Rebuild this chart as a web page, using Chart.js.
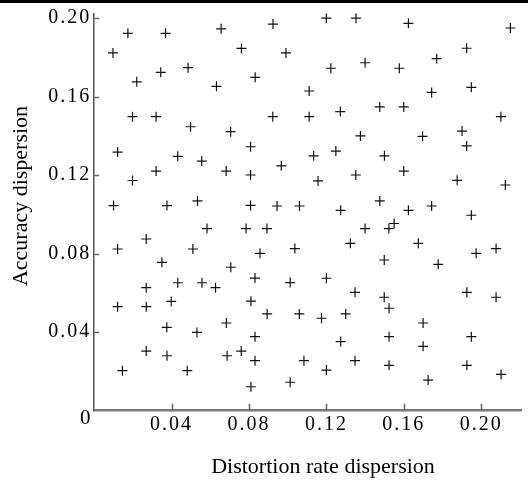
<!DOCTYPE html>
<html>
<head>
<meta charset="utf-8">
<script src="https://cdn.jsdelivr.net/npm/chart.js@4.4.1/dist/chart.umd.min.js"></script>
<style>
  html, body { margin: 0; padding: 0; background: #fff; }
</style>
</head>
<body>
<canvas id="myChart" width="528" height="482"></canvas>
<script>
// x = distortion rate dispersion, y = accuracy dispersion
const distortionRate = [
  0.0174, 0.0369, 0.0097, 0.0344, 0.0485, 0.0220, 0.0198, 0.0320, 0.0498, 0.0121,
  0.0432, 0.0556, 0.0320, 0.0198, 0.0100, 0.0376, 0.0534, 0.0656, 0.0924, 0.0761,
  0.0991, 0.0832, 0.0632, 0.1111, 0.0923, 0.1111, 0.0705, 0.0808, 0.0682, 0.0808,
  0.0967, 0.0808, 0.0945, 0.1061, 0.1200, 0.1353, 0.1624, 0.1223, 0.1400, 0.1577,
  0.1272, 0.1476, 0.1600, 0.1376, 0.1134, 0.1249, 0.1500, 0.1157, 0.1352, 0.1600,
  0.1476, 0.1274, 0.1624, 0.2151, 0.1925, 0.1770, 0.1744, 0.1949, 0.2102, 0.1697,
  0.1901, 0.1925, 0.1876, 0.2125, 0.1744, 0.1949, 0.0583, 0.0269, 0.0121, 0.0510,
  0.0350, 0.0269, 0.0432, 0.0557, 0.0121, 0.0269, 0.0398, 0.0375, 0.0531, 0.0269,
  0.0376, 0.0146, 0.0481, 0.0785, 0.0893, 0.0857, 0.1037, 0.0706, 0.0627, 0.0831,
  0.1013, 0.0810, 0.0894, 0.1060, 0.0683, 0.0831, 0.0687, 0.0760, 0.0831, 0.1084,
  0.0810, 0.1013, 0.1400, 0.1523, 0.1550, 0.1324, 0.1675, 0.1499, 0.1200, 0.1348,
  0.1499, 0.1524, 0.1175, 0.1300, 0.1274, 0.1524, 0.1348, 0.1524, 0.1200, 0.1974,
  0.2077, 0.1778, 0.1926, 0.2077, 0.1700, 0.1949, 0.1700, 0.1926, 0.2103, 0.1726
];
const accuracy = [
  0.1923, 0.1923, 0.1823, 0.1724, 0.1748, 0.1676, 0.1498, 0.1498, 0.1447, 0.1318,
  0.1296, 0.1272, 0.1221, 0.1173, 0.1045, 0.1045, 0.1069, 0.1946, 0.1970, 0.1846,
  0.1823, 0.1699, 0.1653, 0.1629, 0.1498, 0.1498, 0.1422, 0.1345, 0.1221, 0.1201,
  0.1248, 0.1046, 0.1043, 0.1043, 0.2000, 0.2000, 0.1974, 0.1745, 0.1773, 0.1745,
  0.1524, 0.1548, 0.1548, 0.1400, 0.1299, 0.1323, 0.1299, 0.1171, 0.1201, 0.1221,
  0.1069, 0.1021, 0.1021, 0.1950, 0.1847, 0.1794, 0.1622, 0.1648, 0.1498, 0.1398,
  0.1425, 0.1349, 0.1174, 0.1150, 0.1043, 0.0996, 0.0928, 0.0875, 0.0824, 0.0824,
  0.0756, 0.0627, 0.0652, 0.0652, 0.0530, 0.0530, 0.0557, 0.0425, 0.0399, 0.0304,
  0.0280, 0.0204, 0.0204, 0.0928, 0.0928, 0.0802, 0.0826, 0.0731, 0.0627, 0.0676,
  0.0653, 0.0558, 0.0493, 0.0493, 0.0447, 0.0377, 0.0280, 0.0304, 0.0255, 0.0255,
  0.0122, 0.0145, 0.0928, 0.0928, 0.0954, 0.0853, 0.0853, 0.0768, 0.0675, 0.0603,
  0.0578, 0.0522, 0.0471, 0.0493, 0.0352, 0.0377, 0.0255, 0.0231, 0.0207, 0.0802,
  0.0826, 0.0746, 0.0603, 0.0578, 0.0447, 0.0377, 0.0328, 0.0231, 0.0185, 0.0156
];
const xTicks = [0.04, 0.08, 0.12, 0.16, 0.20];
const yTicks = [0.04, 0.08, 0.12, 0.16, 0.20];
const xTitle = 'Distortion rate dispersion';
const yTitle = 'Accuracy dispersion';

const points = distortionRate.map((x, i) => ({ x: x, y: accuracy[i] }));

const serif = '"Liberation Serif", "Times New Roman", serif';

// wider spaced digits for the tick labels (scales are drawn before afterDraw)
const tickSpacing = {
  id: 'tickSpacing',
  beforeDraw(chart) {
    chart.ctx.letterSpacing = '2px';
  }
};

// inward tick marks, the shared "0", axis titles and the dark strip on top
const axisExtras = {
  id: 'axisExtras',
  afterDraw(chart) {
    const ctx = chart.ctx;
    const xs = chart.scales.x, ys = chart.scales.y, a = chart.chartArea;
    ctx.save();
    ctx.fillStyle = '#000';
    ctx.fillRect(0, 0, chart.width, 3);

    ctx.strokeStyle = '#666';
    ctx.lineWidth = 1.5;
    xTicks.forEach(v => {
      const px = Math.round(xs.getPixelForValue(v)) + 0.5;
      ctx.beginPath();
      ctx.moveTo(px, a.bottom);
      ctx.lineTo(px, a.bottom - 7);
      ctx.stroke();
    });
    yTicks.forEach(v => {
      const py = Math.round(ys.getPixelForValue(v)) + 0.5;
      ctx.beginPath();
      ctx.moveTo(a.left, py);
      ctx.lineTo(a.left + 5, py);
      ctx.stroke();
    });

    ctx.fillStyle = '#000';
    ctx.letterSpacing = '0px';
    ctx.font = '21px ' + serif;
    ctx.textAlign = 'center';
    ctx.textBaseline = 'middle';
    ctx.fillText('0', a.left - 9, a.bottom + 8);

    ctx.font = '22px ' + serif;
    ctx.textBaseline = 'alphabetic';
    ctx.fillText(xTitle, 323, 473);
    ctx.translate(27, 196);
    ctx.rotate(-Math.PI / 2);
    ctx.fillText(yTitle, 0, 0);
    ctx.restore();
    ctx.letterSpacing = '0px';
  }
};

const tickLabel = v => (Math.abs(v) < 1e-9 ? '' : v.toFixed(2));

const ctx = document.getElementById('myChart').getContext('2d');
const myChart = new Chart(ctx, {
  type: 'scatter',
  data: {
    datasets: [{
      data: points,
      pointStyle: 'cross',
      pointRadius: 5,
      pointBorderWidth: 1.2,
      borderColor: '#111',
      backgroundColor: '#111'
    }]
  },
  options: {
    responsive: false,
    animation: false,
    layout: { padding: { top: 13.3, left: 0, right: 0, bottom: 0 } },
    plugins: { legend: { display: false }, tooltip: { enabled: false } },
    scales: {
      x: {
        type: 'linear',
        min: 0,
        max: 0.221,
        grid: { display: false, drawTicks: false },
        border: { display: true, color: '#7a7a7a', width: 2.5 },
        ticks: {
          stepSize: 0.04,
          includeBounds: false,
          padding: 2,
          maxRotation: 0,
          color: '#000',
          font: { family: serif, size: 20 },
          callback: tickLabel
        },
        afterFit(scale) {
          scale.height = 71.3;
          scale.paddingLeft = 0;
          scale.paddingRight = 0;
        }
      },
      y: {
        type: 'linear',
        min: 0,
        max: 0.2025,
        grid: { display: false, drawTicks: false },
        border: { display: true, color: '#555', width: 1.5 },
        ticks: {
          stepSize: 0.04,
          includeBounds: false,
          padding: 3,
          color: '#000',
          font: { family: serif, size: 20 },
          callback: tickLabel
        },
        afterFit(scale) {
          scale.width = 94.2;
          scale.paddingTop = 0;
          scale.paddingBottom = 0;
        }
      }
    }
  },
  plugins: [tickSpacing, axisExtras]
});
</script>
</body>
</html>
